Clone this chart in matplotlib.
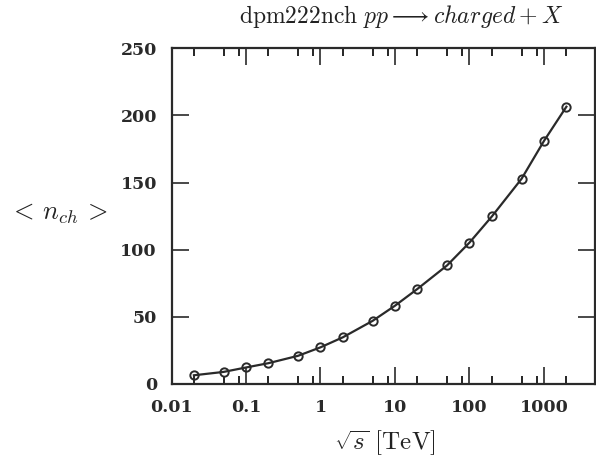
import matplotlib
matplotlib.use("Agg")
import matplotlib.pyplot as plt
from matplotlib.ticker import FixedLocator, FixedFormatter, NullFormatter

plt.rcParams['mathtext.fontset'] = 'cm'
plt.rcParams['font.family'] = 'DejaVu Serif'

sqrt_s = [0.02, 0.05, 0.1, 0.2, 0.5, 1, 2, 5, 10, 20, 50, 100, 200, 500, 1000, 2000]
nch = [6.5, 9.0, 12.3, 15.5, 21.0, 27.3, 34.8, 47.0, 58.3, 70.8, 88.3, 105.3, 124.8, 152.8, 181.0, 206.5]

xticks = [0.01, 0.1, 1, 10, 100, 1000]
xticklabels = ['0.01', '0.1', '1', '10', '100', '1000']
yticks = [0, 50, 100, 150, 200, 250]

fig = plt.figure(figsize=(5.96, 4.66), dpi=100)
ax = fig.add_axes([171.5/596, 1 - 384/466, (595 - 171.5)/596, (384 - 48.3)/466])

ax.plot(sqrt_s, nch, color='#2a2a2a', lw=1.6, marker='o', ms=6, mfc='none', mec='#2a2a2a', mew=1.4)

ax.set_xscale('log')
ax.set_xlim(0.01, 10**3.685)
ax.set_ylim(0, 250)

ax.xaxis.set_major_locator(FixedLocator(xticks))
ax.xaxis.set_major_formatter(FixedFormatter(xticklabels))
minors = []
for d in [0.01, 0.1, 1, 10, 100, 1000]:
    for m in (2, 5, 8):
        if d * m < 10**3.685:
            minors.append(d * m)
ax.xaxis.set_minor_locator(FixedLocator(minors))
ax.xaxis.set_minor_formatter(NullFormatter())
ax.yaxis.set_major_locator(FixedLocator(yticks))
ax.yaxis.set_minor_locator(FixedLocator([]))

ax.tick_params(which='major', direction='in', length=12, width=1.2, top=True, right=True,
               labelsize=12.5, colors='#2a2a2a')
ax.tick_params(which='minor', direction='in', length=6, width=1.2, top=True, right=True)
ax.tick_params(axis='y', pad=10.5)
ax.tick_params(axis='x', pad=11)
for lab in ax.get_xticklabels() + ax.get_yticklabels():
    lab.set_fontweight('bold')
    lab.set_color('#2a2a2a')

for sp in ax.spines.values():
    sp.set_linewidth(1.6)
    sp.set_color('#2a2a2a')

fig.text(401/596, 1 - 16/466, r'$\mathrm{dpm222nch}\ pp \longrightarrow charged + X$', fontsize=17,
         color='#222222', ha='center', va='center')
fig.text(385/596, 1 - 443/466, r'$\sqrt{s}\ [\mathrm{TeV}]$', fontsize=18, color='#222222',
         ha='center', va='center')
fig.text(58/596, 1 - 213/466, r'$<\,n_{ch}\,>$', fontsize=19, color='#222222',
         ha='center', va='center')

fig.savefig('out.png', dpi=100)
